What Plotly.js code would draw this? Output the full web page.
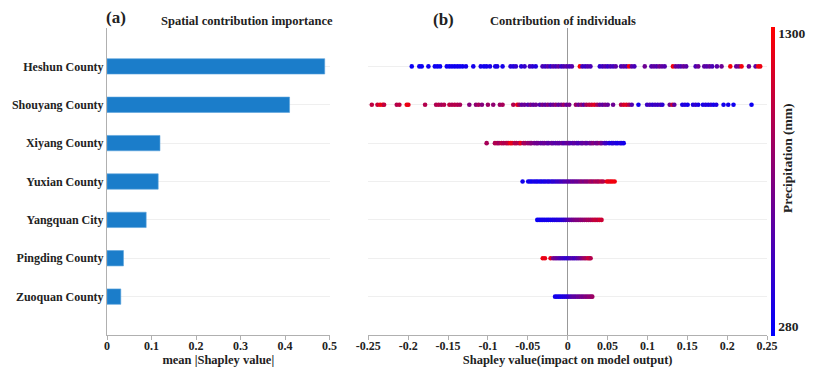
<!DOCTYPE html>
<html><head><meta charset="utf-8">
<script src="https://cdn.plot.ly/plotly-3.0.1.min.js"></script>
<style>html,body{margin:0;padding:0;background:#fff}#chart{width:820px;height:377px}</style>
</head><body><div id="chart"></div>
<script>
// ---- data ----
const counties = ["Heshun County","Shouyang County","Xiyang County","Yuxian County","Yangquan City","Pingding County","Zuoquan County"];
const meanAbsShap = [0.489, 0.410, 0.119, 0.115, 0.088, 0.037, 0.031];

const heshunShap = [-0.1955,-0.186,-0.183,-0.1746,-0.1666,-0.1634,-0.160,-0.1516,-0.1483,-0.145,-0.1416,-0.1383,-0.135,-0.1316,-0.1275,-0.1183,-0.109,-0.1049,-0.1016,-0.0974,-0.0908,-0.0883,-0.0816,-0.0716,-0.0682,-0.0649,-0.0582,-0.054,-0.0474,-0.044,-0.040,-0.0315,-0.0282,-0.0248,-0.0215,-0.0182,-0.0148,-0.0115,-0.008,-0.0048,-0.0014,0.002,0.0053,0.0153,0.0186,0.022,0.0253,0.0286,0.0403,0.0437,0.047,0.0503,0.0537,0.057,0.0603,0.067,0.0704,0.0737,0.077,0.0804,0.0837,0.0967,0.105,0.1083,0.1117,0.115,0.1183,0.1217,0.132,0.1354,0.1387,0.142,0.1454,0.1487,0.1605,0.1638,0.1713,0.1746,0.178,0.1813,0.1872,0.193,0.204,0.2114,0.2148,0.2181,0.2273,0.2357,0.239,0.2415];
const heshunPrec = [290,300,295,310,300,305,290,310,300,315,300,320,310,305,330,320,340,310,330,350,340,360,330,420,380,450,400,470,520,430,380,560,480,620,450,600,520,650,480,560,620,540,600,1290,520,480,600,560,450,520,600,480,560,520,620,580,640,560,1280,620,540,700,600,650,580,720,640,600,1260,700,640,580,680,620,560,700,640,600,680,560,620,700,1290,680,750,1270,700,640,1280,1250];

const shouyangShap = [-0.2456,-0.2385,-0.2352,-0.2318,-0.2302,-0.2143,-0.211,-0.2018,-0.1997,-0.1788,-0.165,-0.1617,-0.1584,-0.155,-0.1483,-0.145,-0.1416,-0.1383,-0.135,-0.1233,-0.115,-0.1116,-0.1075,-0.1,-0.0933,-0.085,-0.0816,-0.0682,-0.0632,-0.0607,-0.0574,-0.054,-0.0498,-0.0465,-0.0432,-0.0398,-0.0348,-0.0315,-0.0282,-0.0248,-0.0215,-0.0182,-0.0148,-0.0115,-0.008,-0.0048,-0.0014,0.002,0.0103,0.0136,0.017,0.0203,0.0236,0.027,0.0303,0.0336,0.037,0.0403,0.0437,0.047,0.0503,0.057,0.067,0.0704,0.0737,0.077,0.0804,0.0888,0.0996,0.103,0.1063,0.1096,0.113,0.1163,0.1188,0.128,0.1313,0.1338,0.1438,0.1471,0.1505,0.1572,0.1605,0.1638,0.1697,0.173,0.1763,0.1797,0.183,0.1864,0.1955,0.2014,0.208,0.2306];
const shouyangPrec = [1050,1080,1220,1250,1050,1000,1050,1260,1230,1000,980,1020,950,1000,1050,980,1020,1000,950,800,850,950,800,900,850,900,950,1000,1250,900,650,700,600,750,650,700,600,750,650,800,620,700,850,650,720,900,680,750,900,700,850,650,950,1050,1100,1200,950,700,650,750,680,700,1000,1150,1200,980,600,320,500,560,450,520,480,550,430,700,1100,650,350,400,330,380,450,360,340,400,350,420,330,370,320,340,310,300];

const xiyangShap = [-0.1016,-0.0912,-0.0884,-0.0861,-0.0829,-0.0803,-0.0771,-0.0748,-0.0719,-0.0697,-0.0664,-0.0641,-0.0608,-0.0589,-0.0553,-0.0531,-0.0498,-0.0472,-0.0455,-0.0419,-0.0391,-0.0372,-0.0338,-0.0312,-0.0291,-0.0259,-0.0238,-0.0204,-0.0183,-0.0152,-0.0126,-0.0104,-0.0071,-0.0046,-0.0019,0.0008,0.0029,0.0061,0.0083,0.0115,0.0136,0.0168,0.0189,0.0221,0.0242,0.0276,0.0297,0.0321,0.0356,0.0377,0.0408,0.0429,0.0463,0.0484,0.0521,0.0552,0.0571,0.0604,0.0627,0.0658,0.0679,0.0703];
const xiyangPrec = [950,980,1000,920,1050,980,1000,1050,1270,1220,1000,1000,980,1240,900,950,850,880,800,750,700,720,680,650,700,660,620,680,640,600,650,620,680,600,640,700,620,580,650,600,560,620,650,700,620,680,720,800,700,750,850,680,550,500,400,350,420,380,340,400,360,330];

const yuxianShap = [-0.0565,-0.0495,-0.0471,-0.0448,-0.0422,-0.0398,-0.0376,-0.0349,-0.0327,-0.0301,-0.0279,-0.0252,-0.0231,-0.0204,-0.0182,-0.0157,-0.0133,-0.0109,-0.0086,-0.0061,-0.0038,-0.0012,0.0011,0.0036,0.0059,0.0083,0.0107,0.0131,0.0156,0.0179,0.0204,0.0228,0.0251,0.0277,0.0299,0.0323,0.0348,0.0372,0.0394,0.0421,0.0445,0.0492,0.0514,0.0538,0.0561,0.0589];
const yuxianPrec = [320,310,330,300,350,320,340,300,360,330,380,350,400,380,450,420,500,480,550,520,600,580,640,600,700,650,720,680,760,820,750,850,800,900,950,880,1000,920,980,1050,1000,1220,1250,1200,1280,1260];

const yangquanShap = [-0.0381,-0.0358,-0.0334,-0.0311,-0.0287,-0.0262,-0.0239,-0.0216,-0.0191,-0.0168,-0.0144,-0.0121,-0.0097,-0.0072,-0.0049,-0.0026,-0.0002,0.0022,0.0046,0.0069,0.0093,0.0117,0.0141,0.0164,0.0188,0.0212,0.0236,0.0259,0.0283,0.0307,0.0331,0.0354,0.0378,0.0401,0.0425];
const yangquanPrec = [290,310,300,330,320,340,310,350,330,370,360,400,380,420,450,500,560,620,680,720,760,800,780,850,820,880,900,950,920,1000,1050,1100,1020,1150,1100];

const pingdingShap = [-0.0312,-0.0285,-0.0214,-0.0182,-0.0158,-0.0134,-0.0109,-0.0086,-0.0061,-0.0037,-0.0012,0.0013,0.0036,0.0061,0.0084,0.0109,0.0133,0.0158,0.0181,0.0206,0.0229,0.0254,0.0271,0.0288];
const pingdingPrec = [1250,1230,1200,760,700,650,600,560,520,480,450,500,550,600,520,580,650,700,800,900,950,1050,1100,1000];

const zuoquanShap = [-0.0158,-0.0135,-0.0111,-0.0088,-0.0064,-0.0041,-0.0017,0.0006,0.0031,0.0054,0.0078,0.0101,0.0126,0.0149,0.0173,0.0196,0.0221,0.0244,0.0268,0.0291,0.0309];
const zuoquanPrec = [320,340,310,360,350,400,380,450,520,600,650,620,700,680,750,720,800,780,850,820,900];

const leftTickVals = [0,0.1,0.2,0.3,0.4,0.5];
const leftTickText = ["0","0.1","0.2","0.3","0.4","0.5"];
const rightTickVals = [-0.25,-0.2,-0.15,-0.1,-0.05,0,0.05,0.1,0.15,0.2,0.25];
const rightTickText = ["-0.25","-0.2","-0.15","-0.1","-0.05","0","0.05","0.1","0.15","0.2","0.25"];
const precipTicks = [280,1300];

// ---- build ----
const shapRows = [heshunShap,shouyangShap,xiyangShap,yuxianShap,yangquanShap,pingdingShap,zuoquanShap];
const precRows = [heshunPrec,shouyangPrec,xiyangPrec,yuxianPrec,yangquanPrec,pingdingPrec,zuoquanPrec];
let sx=[], sy=[], sc=[];
shapRows.forEach((row,i)=>{ row.forEach((v,j)=>{ sx.push(v); sy.push(counties[i]); sc.push(precRows[i][j]); }); });

const F = "Times New Roman, Liberation Serif, serif";
const font = (s)=>({family:F,size:s,color:"#222",weight:"bold"});

const traces = [
  {type:"bar", orientation:"h", x:meanAbsShap, y:counties, xaxis:"x", yaxis:"y", width:0.4,
   marker:{color:"#1b7dca", line:{color:"#5aa2dc", width:0.6}}, hoverinfo:"x+y"},
  {type:"scatter", mode:"markers", x:sx, y:sy, xaxis:"x2", yaxis:"y2",
   marker:{size:4.6, color:sc, cmin:245, cmax:1321,
     colorscale:[[0,"rgb(0,0,255)"],[1,"rgb(255,0,0)"]],
     showscale:true,
     colorbar:{x:1.0068, xanchor:"left", y:0.5, yanchor:"middle", len:1.005, lenmode:"fraction",
       thickness:4, outlinewidth:0, xpad:0, ypad:0, tickvals:precipTicks, ticktext:precipTicks.map(String),
       ticks:"", tickfont:font(13.5)}}}
];

const catOrder = counties.slice().reverse();
const layout = {
  width:820, height:377, paper_bgcolor:"#fff", plot_bgcolor:"#fff", showlegend:false,
  margin:{l:107, r:53, t:28, b:42},
  xaxis:{domain:[0,0.3373], range:[0,0.5], tickvals:leftTickVals, ticktext:leftTickText,
    showgrid:false, zeroline:false, showline:true, linecolor:"#b0b0b0", linewidth:1,
    ticks:"outside", ticklen:4, tickcolor:"#b0b0b0", tickfont:font(12), ticklabelstandoff:-4,
    title:{text:"mean |Shapley value|", font:font(12.5), standoff:0}},
  yaxis:{type:"category", categoryorder:"array", categoryarray:catOrder, range:[-1,7],
    showgrid:true, gridcolor:"#efefef", zeroline:false, showline:true, linecolor:"#b0b0b0",
    ticks:"", tickfont:font(12), anchor:"x"},
  xaxis2:{domain:[0.3959,1], range:[-0.25,0.25], tickvals:rightTickVals, ticktext:rightTickText,
    showgrid:false, zeroline:true, zerolinecolor:"#999", zerolinewidth:1.6, showline:true, linecolor:"#b0b0b0",
    ticks:"outside", ticklen:4, tickcolor:"#b0b0b0", tickfont:font(12), anchor:"y2", ticklabelstandoff:-4,
    title:{text:"Shapley value(impact on model output)", font:font(12.5), standoff:0}},
  yaxis2:{type:"category", categoryorder:"array", categoryarray:catOrder, range:[-1,7], anchor:"x2",
    showgrid:true, gridcolor:"#efefef", zeroline:false, showline:false, showticklabels:false, ticks:""},
  annotations:[
    {text:"(a)", xref:"paper", yref:"paper", x:0.0129, y:1.0326, showarrow:false, font:font(17), xanchor:"center", yanchor:"middle"},
    {text:"Spatial contribution importance", xref:"paper", yref:"paper", x:0.2121, y:1.0228, showarrow:false, font:font(12.5), xanchor:"center", yanchor:"middle"},
    {text:"(b)", xref:"paper", yref:"paper", x:0.5091, y:1.0293, showarrow:false, font:font(17), xanchor:"center", yanchor:"middle"},
    {text:"Contribution of individuals", xref:"paper", yref:"paper", x:0.6905, y:1.0228, showarrow:false, font:font(12.5), xanchor:"center", yanchor:"middle"},
    {text:"Precipitation (mm)", xref:"paper", yref:"paper", x:1.0303, y:0.5765, showarrow:false, textangle:-90, font:font(13.5), xanchor:"center", yanchor:"middle"}
  ]
};
Plotly.newPlot("chart", traces, layout, {displayModeBar:false, staticPlot:true});
</script></body></html>
